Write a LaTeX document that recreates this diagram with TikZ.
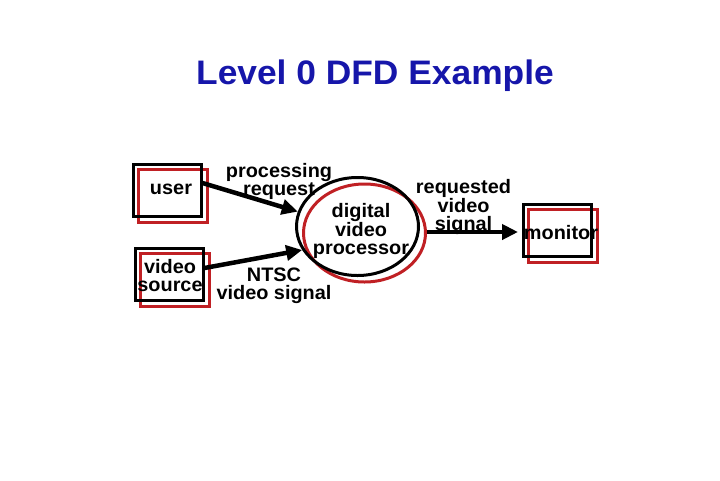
\documentclass[tikz,border=0pt]{standalone}
\usepackage{fontspec}
\setmainfont{Liberation Sans}
\newfontfamily\labfont{Liberation Sans}[FakeStretch=1.02]
\newfontfamily\titlefont{Liberation Sans}[FakeStretch=1.04]
\usetikzlibrary{shapes.geometric,arrows.meta}
\definecolor{titleblue}{RGB}{22,22,170}
\definecolor{boxred}{RGB}{192,32,36}
\tikzset{
  lab/.style={align=center, inner sep=0pt, font=\labfont\bfseries\fontsize{19.5}{18}\selectfont},
  blackbox/.style={draw=black, line width=3pt, rectangle, inner sep=0pt, minimum width=68pt, minimum height=52pt},
  redbox/.style={draw=boxred, line width=3pt, rectangle, inner sep=0pt, minimum width=69pt, minimum height=53pt},
  blackell/.style={draw=black, line width=3pt, ellipse, inner sep=0pt, minimum width=122pt, minimum height=98pt},
  redell/.style={draw=boxred, line width=3pt, ellipse, inner sep=0pt, minimum width=122pt, minimum height=98pt},
  flow/.style={line width=4.5pt, -{Triangle[length=16pt,width=15pt]}}
}
\begin{document}
\begin{tikzpicture}[x=1pt,y=-1pt]
\useasboundingbox (0,0) rectangle (720,480);
% title
\node[anchor=base, inner sep=0pt, text=titleblue, font=\titlefont\bfseries\fontsize{34}{34}\selectfont] (title) at (375,84) {Level 0 DFD Example};
% red offset shapes
\node[redbox] (userR) at (172.5,195.5) {};
\node[redbox] (srcR) at (174.5,279.5) {};
\node[redbox] (monR) at (563,235.5) {};
\node[redell] (procR) at (364.5,233) {};
% black shapes
\node[blackbox] (user) at (167,190) {};
\node[blackbox] (src) at (169,274.5) {};
\node[blackbox] (mon) at (557.5,230) {};
\node[blackell] (proc) at (357.5,226.5) {};
% texts
\node[lab] (userT) at (171,189) {user};
\node[lab] (srcT) at (170,276) {video\\source};
\node[lab] (monT) at (561,233) {monitor};
\node[lab] (procT) at (361,231) {digital\\video\\processor};
% flows
\draw[flow] ([yshift=7pt]user.east) -- (proc.166);
\draw[flow] ([yshift=6.5pt]src.east) -- (proc.203);
\coordinate (outS) at (procR.east |- mon.west);
\draw[flow, shorten >=4pt] ([yshift=-2pt]outS) -- ([yshift=-2pt]mon.west);
% flow labels
\node[lab] (reqT) at (279,181) {processing\\request};
\node[lab] (ntscT) at (274,286) {NTSC\\video signal};
\node[lab] (outT) at (463.5,207) {requested\\video\\signal};
\end{tikzpicture}
\end{document}
